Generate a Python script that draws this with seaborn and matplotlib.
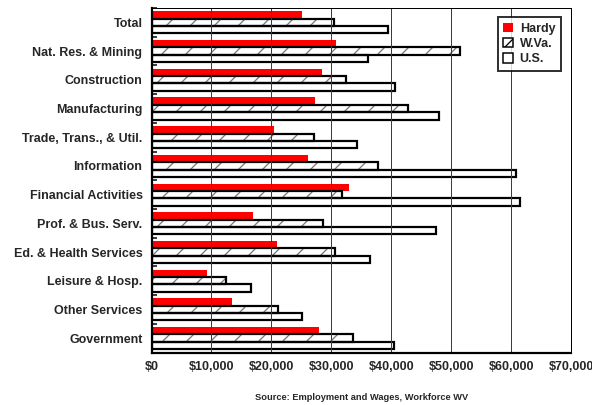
import numpy as np
import pandas as pd
import seaborn as sns
import matplotlib
matplotlib.use("Agg")
import matplotlib.pyplot as plt
from matplotlib.patches import Patch, Rectangle
from matplotlib.ticker import FuncFormatter, MultipleLocator

# Average annual wages by industry
industries = [
    "Total", "Nat. Res. & Mining", "Construction", "Manufacturing",
    "Trade, Trans., & Util.", "Information", "Financial Activities",
    "Prof. & Bus. Serv.", "Ed. & Health Services", "Leisure & Hosp.",
    "Other Services", "Government",
]
hardy = [25100, 30800, 28400, 27300, 20500, 26100, 33000, 16900, 21000, 9250, 13500, 28000]
wva = [30400, 51400, 32450, 42800, 27100, 37850, 31800, 28550, 30700, 12400, 21100, 33700]
us = [39450, 36150, 40600, 47900, 34300, 60800, 61500, 47400, 36500, 16600, 25150, 40500]
areas = ["Hardy", "W.Va.", "U.S."]

df = pd.DataFrame({
    "Industry": industries * 3,
    "Area": np.repeat(areas, len(industries)),
    "Wage": hardy + wva + us,
})

sns.set_style("white")
plt.rcParams["font.family"] = ["Liberation Sans", "DejaVu Sans"]
plt.rcParams["font.weight"] = "bold"
plt.rcParams["hatch.linewidth"] = 1.3

DPI = 72
W, H = 592, 405
FS = 12.5
fig = plt.figure(figsize=(W / DPI, H / DPI), dpi=DPI)
ax = fig.add_axes([151.5 / W, 1 - 352.5 / H, 419.5 / W, 344.5 / H])

sns.barplot(
    data=df, y="Industry", x="Wage", hue="Area", hue_order=areas,
    order=industries, orient="h", palette=["#ff0000", "white", "white"],
    saturation=1, width=0.77, gap=0, legend=False, ax=ax,
)

# Style each series: solid red, grey-hatched with black outline, open black outline
hardy_bars, wva_bars, us_bars = ax.containers[:3]
for p in hardy_bars:
    p.set_edgecolor("none")
    p.set_linewidth(0)
for p in wva_bars:
    p.set_facecolor("white")
    p.set_hatch("/")
    p.set_edgecolor("#7a7a7a")
    p.set_linewidth(0)
    ax.add_patch(Rectangle((p.get_x(), p.get_y()), p.get_width(), p.get_height(),
                           fill=False, edgecolor="black", linewidth=2.2, zorder=p.get_zorder()))
for p in us_bars:
    p.set_facecolor("white")
    p.set_edgecolor("black")
    p.set_linewidth(2.2)

ax.set_xlim(0, 70000)
ax.set_ylim(len(industries) - 0.5, -0.5)
ax.xaxis.set_major_locator(MultipleLocator(10000))
ax.xaxis.set_major_formatter(FuncFormatter(lambda v, _: f"${v:,.0f}"))
ax.grid(False)
ax.xaxis.grid(True, color="#3c3c3c", linewidth=1.0, zorder=5)
ax.set_axisbelow(False)

ax.set_yticks(range(len(industries)))
ax.set_yticklabels(industries)
ax.set_yticks(np.arange(len(industries) + 1) - 0.5, minor=True)
ax.tick_params(axis="y", which="major", length=0, pad=9, labelsize=FS)
ax.tick_params(axis="y", which="minor", direction="in", length=5, width=1.5, color="black", left=True)
ax.tick_params(axis="x", which="major", length=0, pad=8.5, labelsize=FS)

ax.set_xlabel("")
ax.set_ylabel("")
for side, lw in [("left", 2.2), ("bottom", 2.2), ("top", 1.0), ("right", 1.0)]:
    ax.spines[side].set_visible(True)
    ax.spines[side].set_color("black")
    ax.spines[side].set_linewidth(lw)
    ax.spines[side].set_zorder(6)

handles = [
    Patch(facecolor="#ff0000", edgecolor="none", label="Hardy"),
    Patch(facecolor="white", edgecolor="black", hatch="/", linewidth=1.5, label="W.Va."),
    Patch(facecolor="white", edgecolor="black", linewidth=1.5, label="U.S."),
]
leg = ax.legend(
    handles=handles, loc="upper right", bbox_to_anchor=(0.976, 0.974),
    fontsize=FS, frameon=True, fancybox=False, handlelength=0.8,
    handleheight=0.8, handletextpad=0.5, labelspacing=0.25,
    borderpad=0.45, borderaxespad=0.0,
)
leg.get_frame().set_edgecolor("black")
leg.get_frame().set_linewidth(2.0)
leg.set_zorder(10)

fig.text((151.5 + 571) / 2 / W, 1 - 398 / H, "Source: Employment and Wages, Workforce WV",
         ha="center", va="center", fontsize=9.2, fontweight="bold")

fig.savefig("out.png", dpi=DPI, facecolor="white")
